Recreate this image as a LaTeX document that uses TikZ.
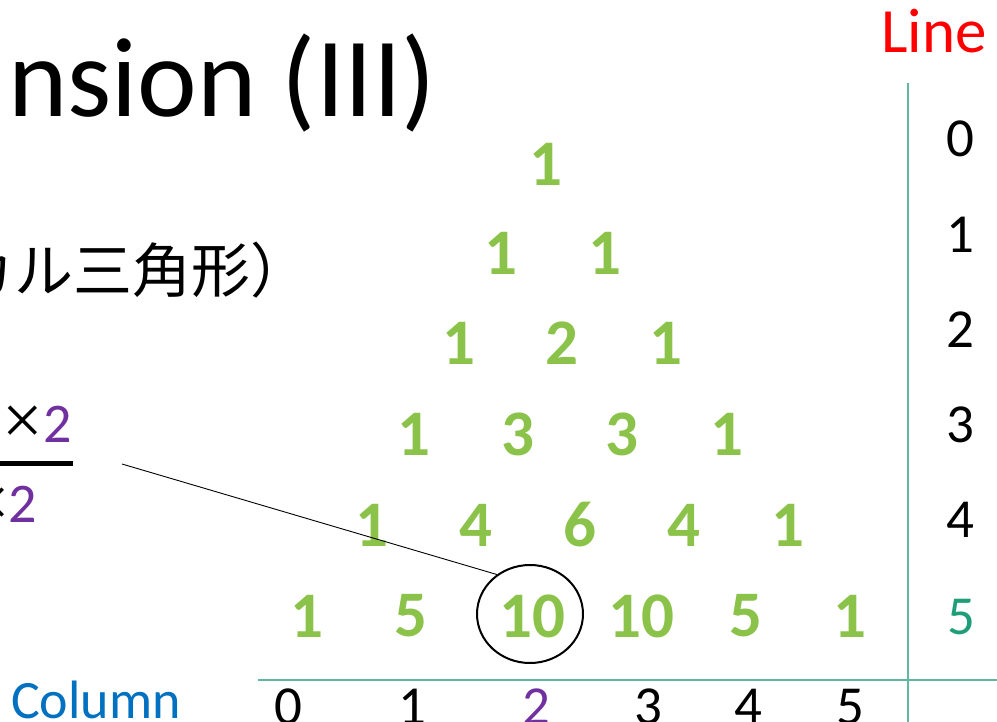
\documentclass[tikz,border=0pt]{standalone}
\usepackage{fontspec}
\setmainfont{Carlito}
\newfontfamily\cjk{Noto Sans CJK JP}
\newfontfamily\timesfont{Liberation Serif}
\usetikzlibrary{shapes.geometric}
\definecolor{tgreen}{RGB}{139,195,74}
\definecolor{tpurple}{RGB}{112,48,160}
\definecolor{tteal}{RGB}{96,184,160}
\definecolor{tteal2}{RGB}{30,158,120}
\definecolor{tblue}{RGB}{0,112,192}
\definecolor{tred}{RGB}{255,0,0}
\begin{document}
\begin{tikzpicture}[x=1pt,y=-1pt,
  num/.style={inner sep=0pt, text=tgreen, font=\fontsize{65}{65}\selectfont\bfseries},
  lnum/.style={inner sep=0pt, font=\fontsize{55}{55}\selectfont},
  timesglyph/.style={inner sep=0pt, font=\timesfont\fontsize{72}{72}\selectfont},
  axisline/.style={draw=tteal, line width=2pt}]
\useasboundingbox (0,0) rectangle (997,722);
\clip (0,0) rectangle (997,722);
% title
\node[inner sep=0pt, anchor=base west, font=\fontsize{113}{113}\selectfont] (title) at (8,117) {nsion (III)};
\node[inner sep=0pt, anchor=base west, font=\cjk\fontsize{59}{59}\selectfont] (sub) at (-163,293) {パスカル三角形）};
% fraction
\node[timesglyph] (numx) at (22.5,425) {×};
\node[inner sep=0pt, anchor=base east, text=tpurple, font=\fontsize{56}{56}\selectfont] (numtwo) at (72,442) {2};
\node[timesglyph] (denx) at (-10,507) {×};
\node[inner sep=0pt, anchor=base east, text=tpurple, font=\fontsize{56}{56}\selectfont] (dentwo) at (37,522) {2};
\coordinate (barL) at (-5,463.5);
\coordinate (barR) at (73,463.5);
\draw[line width=4.5pt] (barL) -- (barR);
\coordinate (lstart) at (122,464);
% triangle
\node[num] (t00) at (546,164) {1};
\node[num] (t10) at (501,253) {1};
\node[num] (t11) at (605,253) {1};
\node[num] (t20) at (459,343) {1};
\node[num] (t21) at (562,343) {2};
\node[num] (t22) at (666,343) {1};
\node[num] (t30) at (414,434) {1};
\node[num] (t31) at (518,434) {3};
\node[num] (t32) at (622,434) {3};
\node[num] (t33) at (727,434) {1};
\node[num] (t40) at (372,525) {1};
\node[num] (t41) at (476,525) {4};
\node[num] (t42) at (580,525) {6};
\node[num] (t43) at (684,525) {4};
\node[num] (t44) at (788,525) {1};
\node[num] (t50) at (307,616) {1};
\node[num] (t51) at (411,616) {5};
\node[num] (t52) at (532,616) {10};
\node[num] (t53) at (641,616) {10};
\node[num] (t54) at (746,616) {5};
\node[num] (t55) at (850,616) {1};
\node[draw, line width=2pt, ellipse, minimum width=106pt, minimum height=98pt, inner sep=0pt] (circ) at (530,614) {};
\draw[line width=0.9pt] (lstart) -- (circ.130);
% axes
\coordinate (vtop) at (908,83);
\coordinate (vbot) at (908,725);
\coordinate (hleft) at (258,680);
\coordinate (hright) at (1000,680);
\draw[axisline] (vtop) -- (vbot);
\draw[axisline] (hleft) -- (hright);
% line labels
\node[inner sep=0pt, anchor=base east, text=tred, font=\fontsize{63}{63}\selectfont] (linelab) at (987,53) {Line};
\node[lnum] (l0) at (960,139) {0};
\node[lnum] (l1) at (960,235) {1};
\node[lnum] (l2) at (960,330) {2};
\node[lnum] (l3) at (960,425) {3};
\node[lnum] (l4) at (960,520) {4};
\node[lnum, text=tteal2] (l5) at (961,617) {5};
% column labels
\node[inner sep=0pt, anchor=base west, text=tblue, font=\fontsize{54}{54}\selectfont] (collab) at (11,718) {Column};
\node[lnum, anchor=base] (c0) at (288,724) {0};
\node[lnum, anchor=base] (c1) at (412,724) {1};
\node[lnum, anchor=base, text=tpurple] (c2) at (536,724) {2};
\node[lnum, anchor=base] (c3) at (648,724) {3};
\node[lnum, anchor=base] (c4) at (748,724) {4};
\node[lnum, anchor=base] (c5) at (850,724) {5};
\end{tikzpicture}
\end{document}
